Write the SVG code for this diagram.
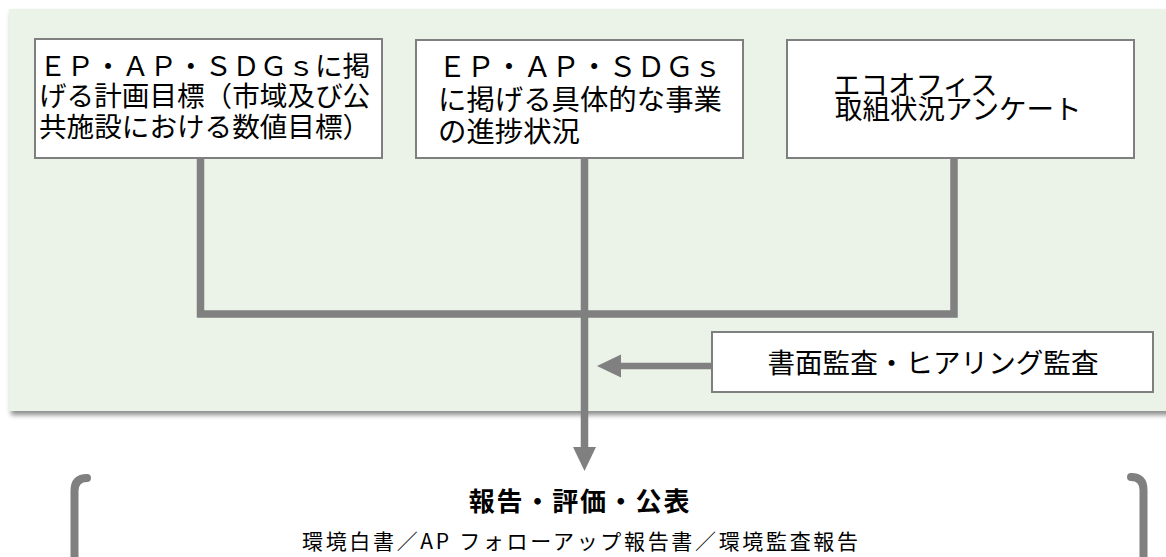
<svg xmlns="http://www.w3.org/2000/svg" width="1166" height="557" viewBox="0 0 1166 557">
  <defs>
    <filter id="shadow" x="-5%" y="-5%" width="110%" height="115%">
      <feDropShadow dx="2" dy="4" stdDeviation="2.5" flood-color="#000" flood-opacity="0.45"/>
    </filter>
    <style>
      .box { fill: #ffffff; stroke: #7f7f7f; stroke-width: 2; }
      .t { font-family: "Noto Sans CJK JP", "Noto Sans", sans-serif; fill: #000; }
      .line { stroke: #808080; stroke-width: 7.5; fill: none; }
      .head { fill: #808080; }
      .brk { stroke: #808080; stroke-width: 8; fill: none; stroke-linecap: round; }
    </style>
  </defs>
  <rect x="0" y="0" width="1166" height="557" fill="#ffffff"/>
  <rect id="panel" x="9" y="9" width="1170" height="402" fill="#ebf3e8" filter="url(#shadow)"/>

  <g id="connectors">
    <path class="line" d="M 200.5 158 L 200.5 314 L 954 314 L 954 158"/>
    <line class="line" x1="584.5" y1="158" x2="584.5" y2="450"/>
    <polygon class="head" points="573,447 596,447 584.5,471"/>
    <line class="line" x1="618" y1="366" x2="713" y2="366" style="stroke-width:6.5"/>
    <polygon class="head" points="597,366 621,354.5 621,377.5"/>
  </g>

  <g id="node-plan">
    <rect class="box" x="35" y="39" width="347" height="119"/>
    <text class="t" font-size="27.6">
      <tspan x="39" y="76">ＥＰ・ＡＰ・ＳＤＧｓに掲</tspan>
      <tspan x="39" y="106">げる計画目標（市域及び公</tspan>
      <tspan x="39" y="137">共施設における数値目標）</tspan>
    </text>
  </g>

  <g id="node-progress">
    <rect class="box" x="416" y="40" width="327" height="118"/>
    <text class="t" font-size="28.4">
      <tspan x="438" y="77">ＥＰ・ＡＰ・ＳＤＧｓ</tspan>
      <tspan x="438" y="110">に掲げる具体的な事業</tspan>
      <tspan x="438" y="142">の進捗状況</tspan>
    </text>
  </g>

  <g id="node-ecooffice">
    <rect class="box" x="787" y="40" width="347" height="118"/>
    <text class="t" font-size="27.5">
      <tspan x="833" y="94.5">エコオフィス</tspan>
      <tspan x="835" y="119">取組状況アンケート</tspan>
    </text>
  </g>

  <g id="node-audit">
    <rect class="box" x="712" y="332" width="441" height="60"/>
    <text class="t" font-size="27.6" x="933" y="372.5" text-anchor="middle">書面監査・ヒアリング監査</text>
  </g>

  <g id="node-report">
    <path class="brk" d="M 87 478 Q 74.5 478 74.5 491 L 74.5 565"/>
    <path class="brk" d="M 1131 477 Q 1143.5 477 1143.5 490 L 1143.5 565"/>
    <text class="t" font-size="26" font-weight="bold" x="580" y="511" text-anchor="middle" letter-spacing="1.8">報告・評価・公表</text>
    <text class="t" font-size="21" x="580" y="549" text-anchor="middle" textLength="556" lengthAdjust="spacing">環境白書／AP フォローアップ報告書／環境監査報告</text>
  </g>
</svg>
